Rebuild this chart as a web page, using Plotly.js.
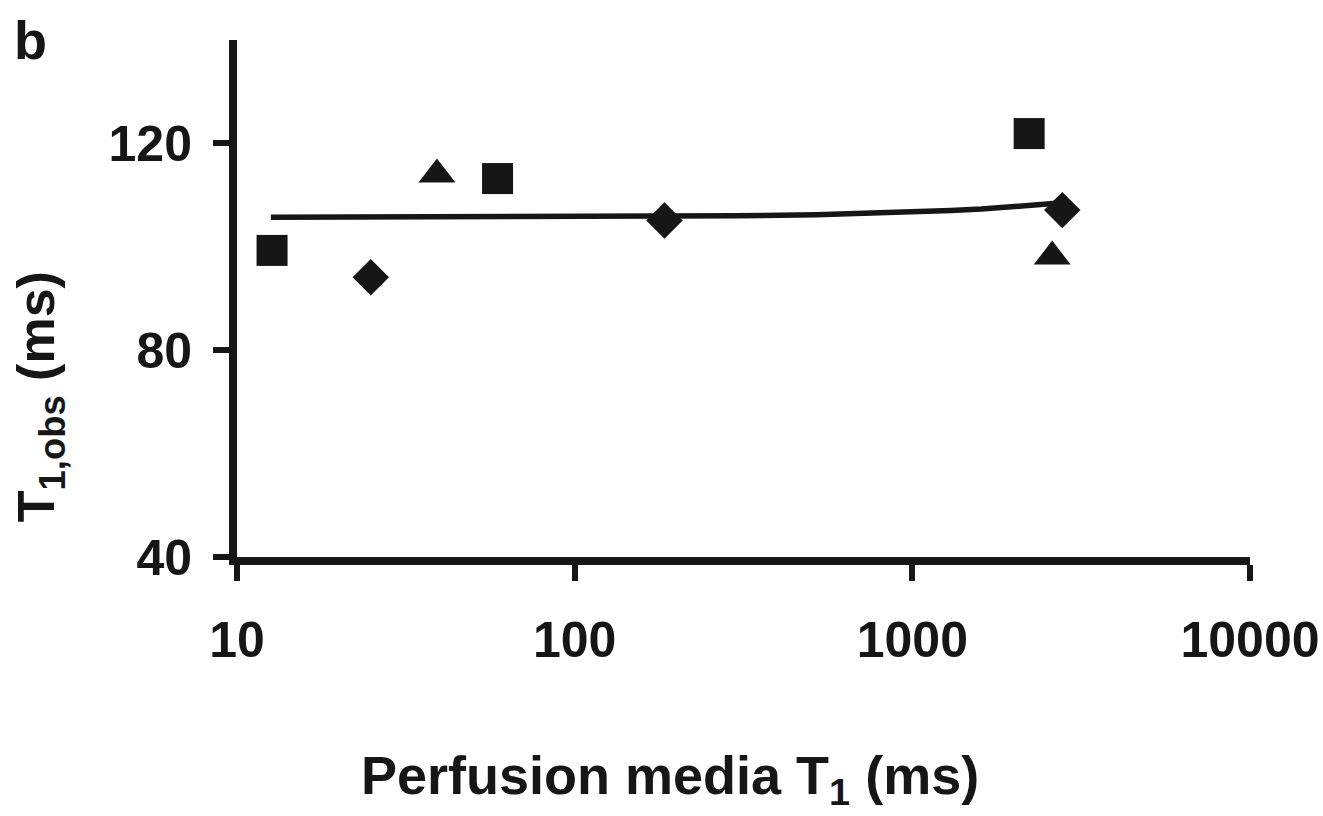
<!DOCTYPE html>
<html>
<head>
<meta charset="utf-8">
<script src="https://cdn.plot.ly/plotly-3.0.1.min.js"></script>
<style>html,body{margin:0;padding:0;background:#fff;}#chart{width:1323px;height:816px;}</style>
</head>
<body>
<div id="chart"></div>
<script>
// Squares
const squareX = [12.7, 59.1, 2218];
const squareY = [99.3, 113.2, 121.9];
// Diamonds
const diamondX = [24.9, 184.5, 2780];
const diamondY = [94.1, 105.1, 107.1];
// Triangles
const triangleX = [39.1, 2595];
const triangleY = [114.0, 98.1];
// Linear trend line
const fitX = [12.6, 100, 300, 520, 800, 1064, 1300, 1600, 1900, 2173, 2450, 2780];
const fitY = [105.7, 105.8, 106.0, 106.2, 106.5, 106.8, 107.0, 107.3, 107.6, 107.9, 108.2, 108.5];
// Ticks
const xTicks = [10, 100, 1000, 10000];
const xTickText = ["10", "100", "1000", "10000"];
const yTicks = [40, 80, 120];

const ink = '#161616';
const fontFam = 'Liberation Sans, Arial, Helvetica, sans-serif';

const traces = [
  {x: fitX, y: fitY, mode: 'lines', line: {color: ink, width: 5.5}, hoverinfo: 'skip'},
  {x: squareX, y: squareY, mode: 'markers', marker: {symbol: 'square', size: 31, color: ink}},
  {x: diamondX, y: diamondY, mode: 'markers', marker: {symbol: 'diamond', size: 28, color: ink}},
  {x: triangleX, y: triangleY, mode: 'markers', marker: {symbol: 'triangle-up', size: 32, color: ink}}
];

const layout = {
  width: 1323, height: 816,
  margin: {l: 237, r: 73, t: 40, b: 259},
  paper_bgcolor: '#fff', plot_bgcolor: '#fff',
  showlegend: false,
  font: {family: fontFam, color: ink},
  xaxis: {
    type: 'log', range: [1, 4],
    tickvals: xTicks, ticktext: xTickText,
    showgrid: false, zeroline: false,
    showline: true, linewidth: 8, linecolor: ink,
    ticks: 'outside', ticklen: 16, tickwidth: 6, tickcolor: ink,
    ticklabelstandoff: 16,
    tickfont: {size: 50, family: fontFam, weight: 'bold', color: ink}
  },
  yaxis: {
    range: [40, 140],
    tickvals: yTicks,
    showgrid: false, zeroline: false,
    showline: true, linewidth: 8, linecolor: ink,
    ticks: 'outside', ticklen: 16, tickwidth: 6, tickcolor: ink,
    ticklabelstandoff: 11,
    tickfont: {size: 50, family: fontFam, weight: 'bold', color: ink}
  },
  annotations: [
    {text: 'b', xref: 'paper', yref: 'paper', x: -0.204, y: 1.0, xanchor: 'center', yanchor: 'middle',
     showarrow: false, font: {size: 54, family: fontFam, weight: 'bold', color: ink}},
    {text: 'T<sub>1,obs</sub> (ms)', xref: 'paper', yref: 'paper', x: -0.1945, y: 0.311, xanchor: 'center', yanchor: 'middle',
     textangle: -90, showarrow: false, font: {size: 52, family: fontFam, weight: 'bold', color: ink}},
    {text: 'Perfusion media T<sub>1</sub> (ms)', xref: 'paper', yref: 'paper', x: 0.4274, y: -0.43, xanchor: 'center', yanchor: 'middle',
     showarrow: false, font: {size: 54, family: fontFam, weight: 'bold', color: ink}}
  ]
};

Plotly.newPlot('chart', traces, layout, {displayModeBar: false, staticPlot: true});
</script>
</body>
</html>
